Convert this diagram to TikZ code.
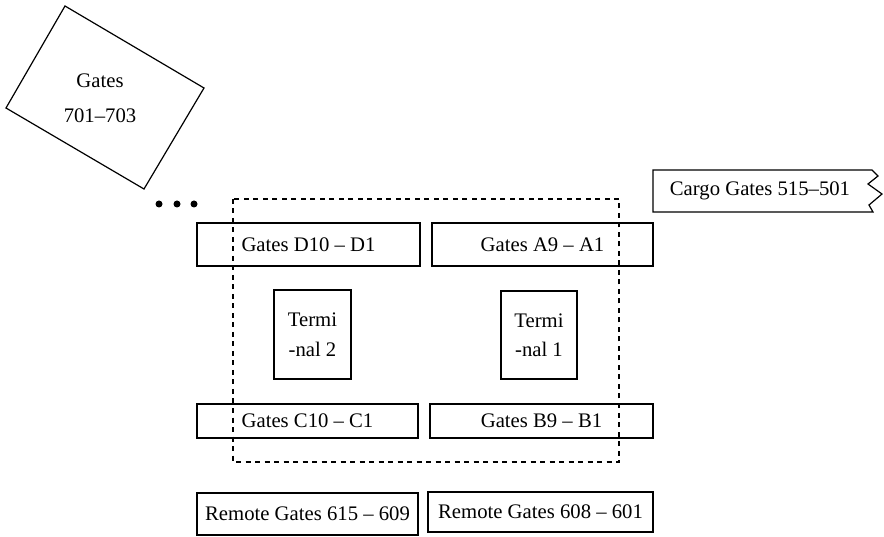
\documentclass[tikz,border=0pt]{standalone}
\usepackage{fontspec}
\setmainfont{Liberation Serif}
\begin{document}
\begin{tikzpicture}[x=1pt,y=-1pt,
  every node/.style={font=\fontsize{20.7}{26}\selectfont},
  gatebox/.style={draw,line width=1.2pt,inner sep=0pt,anchor=center},
  termbox/.style={gatebox,align=center,font=\fontsize{20.7}{29.5}\selectfont},
  zone/.style={draw,line width=1.2pt,dash pattern=on 5pt off 4.5pt},
  dot/.style={circle,fill,inner sep=0pt,minimum size=7pt}]
\useasboundingbox (0,0) rectangle (884,537);

% remote satellite block, tilted
\draw[line width=1.2pt] (65,6) -- (204,88) -- (144,189) -- (6,108) -- cycle;
\node[align=center,font=\fontsize{20.7}{35}\selectfont] (g700) at (100,98.5) {Gates\\701--703};

% ellipsis
\node[dot] (d1) at (159,204) {};
\node[dot] (d2) at (177,204) {};
\node[dot] (d3) at (194,204) {};

% terminal boundary
\draw[zone] (233,199) rectangle (619,462);

% concourses
\node[gatebox,minimum width=223pt,minimum height=43pt] (gD) at (308.5,244.5) {Gates D10 -- D1};
\node[gatebox,minimum width=221pt,minimum height=43pt] (gA) at (542.5,244.5) {Gates A9 -- A1};
\node[gatebox,minimum width=221pt,minimum height=34pt] (gC) at (307.5,421) {Gates C10 -- C1};
\node[gatebox,minimum width=223pt,minimum height=34pt] (gB) at (541.5,421) {Gates B9 -- B1};

% terminal buildings
\node[termbox,minimum width=77pt,minimum height=89pt] (t2) at (312.5,334.5) {Termi\\-nal 2};
\node[termbox,minimum width=76pt,minimum height=88pt] (t1) at (539,335) {Termi\\-nal 1};

% remote stands
\node[gatebox,minimum width=221pt,minimum height=42pt] (r1) at (307.5,514) {Remote Gates 615 -- 609};
\node[gatebox,minimum width=225pt,minimum height=40pt] (r2) at (540.5,512) {Remote Gates 608 -- 601};

% cargo apron, broken at its right end
\draw[line width=1.2pt] (872,170) -- (653,170) -- (653,212) -- (873,212)
  -- (869,205) -- (882,194) -- (868,184) -- (878,176) -- cycle;
\node (cargo) at (760,191) {Cargo Gates 515--501};
\end{tikzpicture}
\end{document}
